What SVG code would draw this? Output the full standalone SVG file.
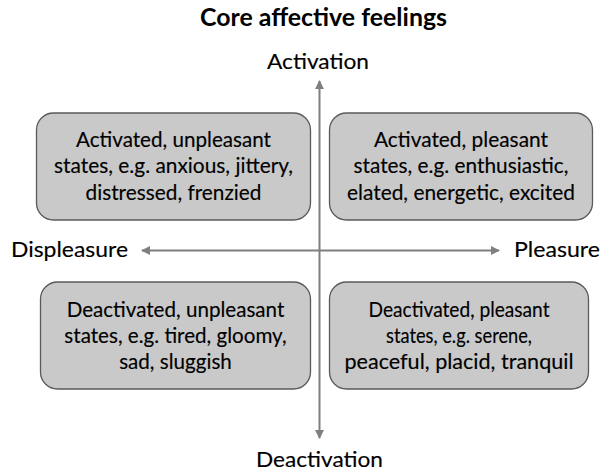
<svg xmlns="http://www.w3.org/2000/svg" width="602" height="471" viewBox="0 0 602 471">
<style>
  .box { fill: #c9c9c9; stroke: #5a5a5a; stroke-width: 1.3; }
  .t { font-family: Lato, "Open Sans", sans-serif; font-size: 20.6px; fill: #000; stroke: #000; stroke-width: 0.15; text-anchor: middle; }
  .ax { font-family: Lato, "Open Sans", sans-serif; font-size: 22px; fill: #000; stroke: #000; stroke-width: 0.15; }
  .title { font-family: Lato, "Open Sans", sans-serif; font-size: 25px; font-weight: bold; fill: #000; text-anchor: middle; }
  .axis { stroke: #7f7f7f; stroke-width: 2; fill: none; }
</style>
<defs>
  <marker id="ah" viewBox="0 0 10 10" refX="9" refY="5" markerWidth="4.5" markerHeight="4.5" orient="auto-start-reverse" markerUnits="strokeWidth">
    <path d="M0,0 L10,5 L0,10 Z" fill="#7f7f7f"/>
  </marker>
</defs>
<rect width="602" height="471" fill="#ffffff"/>
<text class="title" x="323.5" y="26" textLength="247" lengthAdjust="spacingAndGlyphs">Core affective feelings</text>
<g id="connectors">
  <line class="axis" x1="319.5" y1="438" x2="319.5" y2="81" marker-start="url(#ah)" marker-end="url(#ah)"/>
  <line class="axis" x1="142" y1="250.5" x2="499" y2="250.5" marker-start="url(#ah)" marker-end="url(#ah)"/>
</g>
<g id="label-activation"><text class="ax" x="318" y="69" text-anchor="middle" textLength="102" lengthAdjust="spacingAndGlyphs">Activation</text></g>
<g id="label-deactivation"><text class="ax" x="319.5" y="467" text-anchor="middle" textLength="127" lengthAdjust="spacingAndGlyphs">Deactivation</text></g>
<g id="label-displeasure"><text class="ax" x="11" y="256.5" textLength="117" lengthAdjust="spacingAndGlyphs">Displeasure</text></g>
<g id="label-pleasure"><text class="ax" x="514" y="256.5" textLength="86" lengthAdjust="spacingAndGlyphs">Pleasure</text></g>
<g id="node-activated-unpleasant">
  <rect class="box" x="36.5" y="113" width="274" height="107" rx="17"/>
  <text class="t" x="173.5" y="147" textLength="195" lengthAdjust="spacingAndGlyphs">Activated, unpleasant</text>
  <text class="t" x="173.5" y="173" textLength="239" lengthAdjust="spacingAndGlyphs">states, e.g. anxious, jittery,</text>
  <text class="t" x="173.5" y="199.5" textLength="176" lengthAdjust="spacingAndGlyphs">distressed, frenzied</text>
</g>
<g id="node-activated-pleasant">
  <rect class="box" x="329.5" y="113" width="263" height="107" rx="17"/>
  <text class="t" x="461" y="147" textLength="174" lengthAdjust="spacingAndGlyphs">Activated, pleasant</text>
  <text class="t" x="461" y="173" textLength="215" lengthAdjust="spacingAndGlyphs">states, e.g. enthusiastic,</text>
  <text class="t" x="461" y="199.5" textLength="228" lengthAdjust="spacingAndGlyphs">elated, energetic, excited</text>
</g>
<g id="node-deactivated-unpleasant">
  <rect class="box" x="40.5" y="282" width="270" height="107" rx="17"/>
  <text class="t" x="175.5" y="316.5">Deactivated, unpleasant</text>
  <text class="t" x="175.5" y="342.5">states, e.g. tired, gloomy,</text>
  <text class="t" x="175.5" y="368.5">sad, sluggish</text>
</g>
<g id="node-deactivated-pleasant">
  <rect class="box" x="329.5" y="282" width="259" height="107" rx="17"/>
  <text class="t" x="459" y="316.5" textLength="181" lengthAdjust="spacingAndGlyphs">Deactivated, pleasant</text>
  <text class="t" x="459" y="342.5" textLength="146" lengthAdjust="spacingAndGlyphs">states, e.g. serene,</text>
  <text class="t" x="459" y="368.5" textLength="229" lengthAdjust="spacingAndGlyphs">peaceful, placid, tranquil</text>
</g>
</svg>
